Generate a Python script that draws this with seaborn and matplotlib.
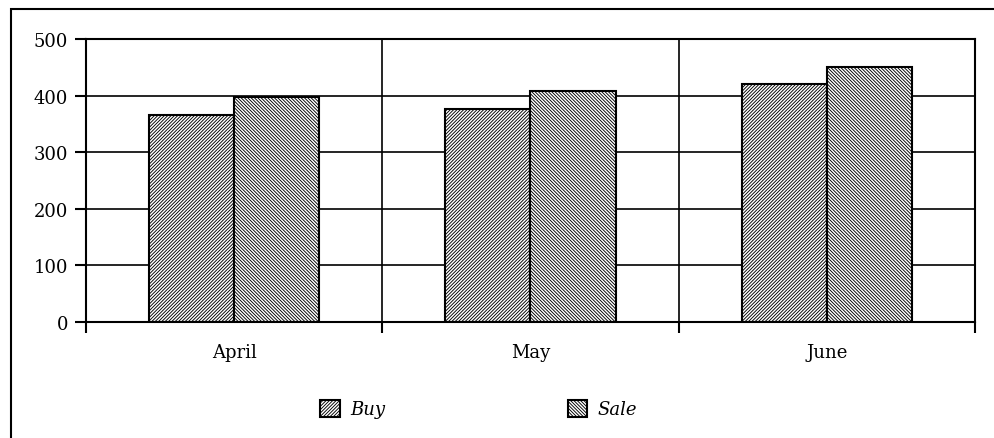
import pandas as pd
import seaborn as sns
import matplotlib.pyplot as plt
from matplotlib.patches import Rectangle

# Chart data
months = ["April", "May", "June"]
buy = [366, 376, 421]
sale = [398, 409, 450]
series = ["Buy", "Sale"]
hatches = ["/" * 10, "\\" * 10]

df = pd.DataFrame({
    "Month": months * 2,
    "Value": buy + sale,
    "Type": ["Buy"] * 3 + ["Sale"] * 3,
})

sns.set_style("white")
plt.rcParams["font.family"] = ["DejaVu Serif"]
plt.rcParams["hatch.linewidth"] = 0.65
plt.rcParams["text.color"] = "black"
plt.rcParams["xtick.color"] = "black"
plt.rcParams["ytick.color"] = "black"

fig = plt.figure(figsize=(9.95, 4.39), dpi=100)
ax = fig.add_axes([0.0864, 0.2642, 0.8935, 0.6447])

sns.barplot(data=df, x="Month", y="Value", hue="Type", hue_order=series,
            palette=["white", "white"], edgecolor="black", linewidth=1.5,
            width=0.575, dodge=True, legend=False, ax=ax)

for container, h in zip(ax.containers, hatches):
    for bar in container:
        bar.set_hatch(h)

ax.set_ylim(0, 500)
ax.set_xlim(-0.5, 2.5)
ax.set_yticks(range(0, 501, 100))
ax.set_xlabel("")
ax.set_ylabel("")

# category separators as minor ticks / gridlines
ax.set_xticks([-0.5, 0.5, 1.5, 2.5], minor=True)
ax.tick_params(axis="x", which="major", length=0, labelsize=13, pad=15, labelcolor="black")
ax.tick_params(axis="x", which="minor", length=8, width=1.5, direction="out", bottom=True, color="black")
ax.tick_params(axis="y", length=8, width=1.5, direction="out", left=True, labelsize=13, pad=5,
               color="black", labelcolor="black")
ax.grid(axis="y", which="major", color="black", linewidth=1.2)
ax.grid(axis="x", which="minor", color="black", linewidth=1.2)
ax.set_axisbelow(True)
for s in ax.spines.values():
    s.set_color("black")
    s.set_linewidth(1.5)

handles = [ax.containers[0][0], ax.containers[1][0]]
leg = fig.legend(handles, series, loc="center", bbox_to_anchor=(0.481, 0.066),
                 ncol=2, frameon=False, columnspacing=10.1, handlelength=1.1,
                 handleheight=1.1, handletextpad=0.55, labelcolor="black",
                 prop={"style": "italic", "size": 13})

# outer frame (runs off the right and bottom edge as in the original)
fig.patches.append(Rectangle((0.011, -0.1), 1.2, 1.1 - 0.023, transform=fig.transFigure,
                             fill=False, edgecolor="black", linewidth=1.5))

fig.savefig("out.png", dpi=100)
